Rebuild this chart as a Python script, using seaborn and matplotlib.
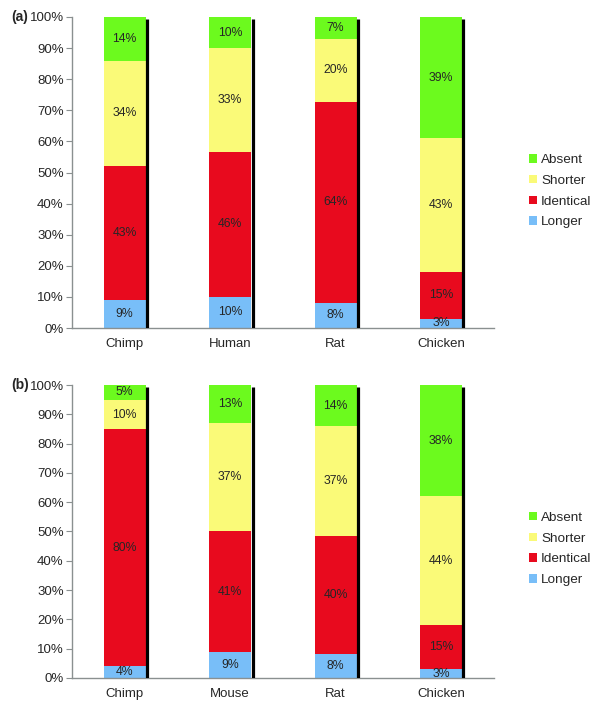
import numpy as np
import pandas as pd
import matplotlib
matplotlib.use("Agg")
import matplotlib.pyplot as plt
import seaborn as sns
from matplotlib.patches import Patch

# panel (a)
species_a = ['Chimp', 'Human', 'Rat', 'Chicken']
longer_a = [9, 10, 8, 3]
identical_a = [43, 46, 64, 15]
shorter_a = [34, 33, 20, 43]
absent_a = [14, 10, 7, 39]

# panel (b)
species_b = ['Chimp', 'Mouse', 'Rat', 'Chicken']
longer_b = [4, 9, 8, 3]
identical_b = [80, 41, 40, 15]
shorter_b = [10, 37, 37, 44]
absent_b = [5, 13, 14, 38]

groups = ['Longer', 'Identical', 'Shorter', 'Absent']
colors = {'Longer': '#78BEF8', 'Identical': '#E80A1E',
          'Shorter': '#FAFA78', 'Absent': '#6CFA1E'}

sns.set_style("white")
plt.rcParams['font.family'] = ['Liberation Sans', 'DejaVu Sans']

fig = plt.figure(figsize=(6, 7.08), dpi=100)
ax_a = fig.add_axes([0.12, 0.5367, 0.703, 0.4393])
ax_b = fig.add_axes([0.12, 0.0424, 0.703, 0.4138])

bar_w = 0.40


def draw_panel(ax, species, cols, tag):
    df = pd.DataFrame(dict(zip(groups, cols)), index=species)
    pct = df.div(df.sum(axis=1), axis=0) * 100  # 100% stacked, like Excel
    cum = pct.cumsum(axis=1)
    # draw tallest cumulative first so lower segments sit on top
    for g in groups[::-1]:
        sns.barplot(x=species, y=cum[g].values, color=colors[g], width=bar_w,
                    saturation=1, ax=ax, order=species, linewidth=0)
    # dark right-hand edge of each bar
    xs = np.arange(len(species)) + bar_w / 2 + 0.012
    ax.vlines(xs, 0, 99.3, color='black', lw=2.3, zorder=5)
    # segment labels
    for i, sp in enumerate(species):
        bottom = 0
        for g in groups:
            h = pct.loc[sp, g]
            ax.text(i, bottom + h / 2, f"{df.loc[sp, g]}%", ha='center',
                    va='center', fontsize=8.8, zorder=6)
            bottom += h

    ax.set_xlim(-0.5, len(species) - 0.5)
    ax.set_ylim(0, 100)
    ax.set_yticks(np.arange(0, 101, 10))
    ax.set_yticklabels([f"{v}%" for v in range(0, 101, 10)], fontsize=9.5)
    ax.set_xticks(np.arange(len(species)))
    ax.set_xticklabels(species, fontsize=9.5)
    ax.set_xticks(np.arange(-0.5, len(species)), minor=True)
    ax.tick_params(axis='x', which='major', length=0, pad=7)
    ax.tick_params(axis='x', which='minor', length=4, color='#8a9090', direction='out')
    ax.tick_params(axis='y', length=4, color='#8a9090', direction='out', left=True, pad=2)
    for s in ['top', 'right']:
        ax.spines[s].set_visible(False)
    for s in ['left', 'bottom']:
        ax.spines[s].set_color('#8a9090')
        ax.spines[s].set_linewidth(1)
    ax.set_xlabel('')
    ax.set_ylabel('')

    handles = [Patch(facecolor=colors[g], edgecolor='none', label=g) for g in groups[::-1]]
    ax.legend(handles=handles, loc='center left', bbox_to_anchor=(1.055, 0.44),
              frameon=False, fontsize=9.7, handlelength=0.6, handleheight=0.6,
              handletextpad=0.3, labelspacing=0.65)
    ax.text(-0.145, 1.0, tag, transform=ax.transAxes, fontsize=10, fontweight='bold',
            ha='left', va='center')


draw_panel(ax_a, species_a, [longer_a, identical_a, shorter_a, absent_a], '(a)')
draw_panel(ax_b, species_b, [longer_b, identical_b, shorter_b, absent_b], '(b)')

fig.savefig('out.png', dpi=100)
